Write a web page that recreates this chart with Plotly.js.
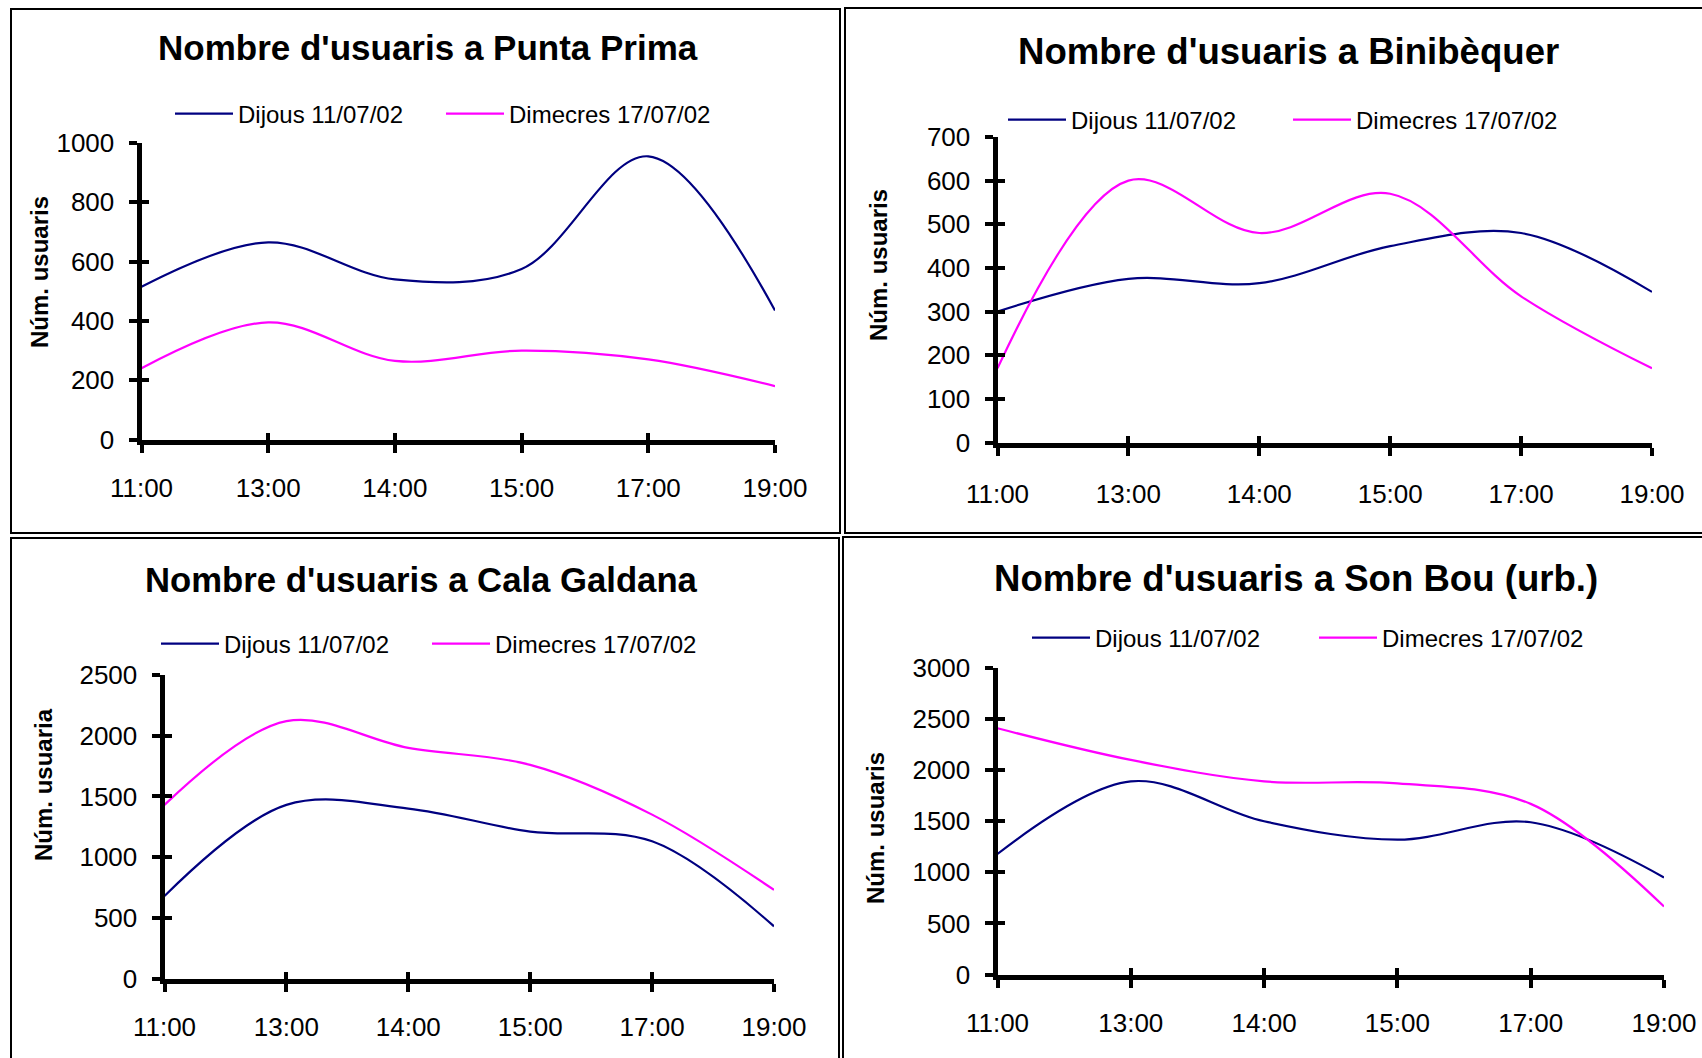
<!DOCTYPE html>
<html>
<head>
<meta charset="utf-8">
<script src="https://cdn.plot.ly/plotly-3.0.1.min.js"></script>
<style>html,body{margin:0;padding:0;background:#fff;}#chart{width:1702px;height:1058px;}</style>
</head>
<body>
<div id="chart"></div>
<script>
// ---- data ----
const hours = ['11:00', '13:00', '14:00', '15:00', '17:00', '19:00'];
const seriesNames = ['Dijous 11/07/02', 'Dimecres 17/07/02'];
const chartTitles = ["Nombre d'usuaris a Punta Prima", "Nombre d'usuaris a Binibèquer",
                     "Nombre d'usuaris a Cala Galdana", "Nombre d'usuaris a Son Bou (urb.)"];
const yTitles = ['Núm. usuaris', 'Núm. usuaris', 'Núm. usuaria', 'Núm. usuaris'];
const puntaPrimaDijous = [515, 665, 540, 575, 955, 435];
const puntaPrimaDimecres = [240, 395, 265, 300, 270, 180];
const binibequerDijous = [300, 375, 365, 450, 480, 345];
const binibequerDimecres = [170, 600, 480, 570, 335, 170];
const calaGaldanaDijous = [680, 1430, 1400, 1210, 1130, 430];
const calaGaldanaDimecres = [1430, 2120, 1900, 1760, 1350, 730];
const sonBouDijous = [1180, 1890, 1500, 1320, 1490, 950];
const sonBouDimecres = [2410, 2100, 1890, 1870, 1670, 665];
const yMax = [1000, 700, 2500, 3000];
const yStep = [200, 100, 500, 500];

const seriesByPanel = [
  [puntaPrimaDijous, puntaPrimaDimecres],
  [binibequerDijous, binibequerDimecres],
  [calaGaldanaDijous, calaGaldanaDimecres],
  [sonBouDijous, sonBouDimecres]
];
const colors = ['#000080', '#FF00FF'];

// ---- layout geometry (pixels) ----
const W = 1702, H = 1058;
const panels = [
  {plot: [141.5, 775, 143, 439.5], title: [428, 48], tsize: 35, legend: [170, 114], ew: 198, xso: 13, ytitle: [39, 272], box: [11, 840, 9, 533]},
  {plot: [997.5, 1652, 137, 442.5], title: [1288, 51], tsize: 36.6, legend: [1003, 120], ew: 212, xso: 16, ytitle: [878, 265], box: [845, 1714, 8, 533]},
  {plot: [164.5, 774, 675, 978.5], title: [421, 580], tsize: 34.7, legend: [156, 644], ew: 198, xso: 13, ytitle: [43, 785], box: [11, 839, 538, 1075]},
  {plot: [997.5, 1664, 668, 974.5], title: [1296, 578], tsize: 36.6, legend: [1027, 638], ew: 214, xso: 13, ytitle: [875, 828], box: [843, 1714, 537, 1075]}
];
const px = v => v / W;
const py = v => 1 - v / H;
const FONT = 'Liberation Sans, Arial, sans-serif';
const idx = hours.map((_, i) => i);

const data = [];
const layout = {
  width: W, height: H,
  margin: {l: 0, r: 0, t: 0, b: 0},
  paper_bgcolor: '#fff', plot_bgcolor: 'rgba(0,0,0,0)',
  font: {family: FONT, color: '#000'},
  annotations: [], shapes: []
};

panels.forEach((p, k) => {
  const n = k + 1;
  const sx = n === 1 ? '' : String(n);
  const xName = 'x' + sx, yName = 'y' + sx;
  const ox = String(n + 4);
  const legName = n === 1 ? 'legend' : 'legend' + n;

  seriesByPanel[k].forEach((vals, s) => {
    data.push({
      type: 'scatter', mode: 'lines',
      x: idx, y: vals,
      name: seriesNames[s],
      xaxis: xName, yaxis: yName,
      legend: legName,
      line: {color: colors[s], width: 2.2, shape: 'spline', smoothing: 1},
      hoverinfo: 'x+y'
    });
  });
  // invisible companion trace so the overlay axes (inner tick halves) are rendered
  data.push({
    type: 'scatter', mode: 'lines', x: idx, y: seriesByPanel[k][0],
    xaxis: 'x' + ox, yaxis: 'y' + ox, showlegend: false, hoverinfo: 'skip',
    opacity: 0, line: {width: 0}
  });

  const xd = [px(p.plot[0]), px(p.plot[1])];
  const yd = [py(p.plot[3]), py(p.plot[2])];
  const common = {showgrid: false, zeroline: false, fixedrange: true};

  layout['xaxis' + sx] = Object.assign({}, common, {
    domain: xd, anchor: yName, range: [0, hours.length - 1],
    tickmode: 'array', tickvals: idx, ticktext: hours,
    showline: true, linewidth: 5, linecolor: '#000',
    ticks: 'outside', ticklen: 8, tickwidth: 4, tickcolor: '#000',
    tickfont: {size: 26, family: FONT, color: '#000'},
    ticklabelstandoff: p.xso
  });
  layout['yaxis' + sx] = Object.assign({}, common, {
    domain: yd, anchor: xName, range: [0, yMax[k]],
    tickmode: 'linear', tick0: 0, dtick: yStep[k],
    showline: true, linewidth: 5, linecolor: '#000',
    ticks: 'outside', ticklen: 8, tickwidth: 4, tickcolor: '#000',
    tickfont: {size: 26, family: FONT, color: '#000'},
    ticklabelstandoff: 9
  });
  // overlay axes giving the inner half of the crossing tick marks
  layout['xaxis' + ox] = Object.assign({}, common, {
    overlaying: xName, anchor: 'y' + ox, side: 'bottom', range: [0, hours.length - 1],
    tickmode: 'array', tickvals: idx, showticklabels: false, showline: false,
    ticks: 'inside', ticklen: 7, tickwidth: 4, tickcolor: '#000'
  });
  layout['yaxis' + ox] = Object.assign({}, common, {
    overlaying: yName, anchor: 'x' + ox, side: 'left', range: [0, yMax[k]],
    tickmode: 'linear', tick0: 0, dtick: yStep[k], showticklabels: false, showline: false,
    ticks: 'inside', ticklen: 7, tickwidth: 4, tickcolor: '#000'
  });

  layout[legName] = {
    x: px(p.legend[0]), y: py(p.legend[1]), xanchor: 'left', yanchor: 'middle',
    orientation: 'h', itemwidth: 58, entrywidth: p.ew, bgcolor: 'rgba(0,0,0,0)', borderwidth: 0,
    font: {size: 24, family: FONT, color: '#000'}
  };

  layout.annotations.push({
    text: '<b>' + chartTitles[k] + '</b>', xref: 'paper', yref: 'paper',
    x: px(p.title[0]), y: py(p.title[1]), xanchor: 'center', yanchor: 'middle',
    showarrow: false, font: {size: p.tsize, family: FONT, color: '#000'}
  });
  layout.annotations.push({
    text: '<b>' + yTitles[k] + '</b>', xref: 'paper', yref: 'paper',
    x: px(p.ytitle[0]), y: py(p.ytitle[1]), xanchor: 'center', yanchor: 'middle',
    textangle: -90, showarrow: false, font: {size: 24, family: FONT, color: '#000'}
  });
  layout.shapes.push({
    type: 'rect', xref: 'paper', yref: 'paper', layer: 'below',
    x0: px(p.box[0]), x1: px(p.box[1]), y0: py(p.box[3]), y1: py(p.box[2]),
    line: {color: '#000', width: 2}, fillcolor: 'rgba(0,0,0,0)'
  });
});

Plotly.newPlot('chart', data, layout, {displayModeBar: false, responsive: false});
</script>
</body>
</html>
